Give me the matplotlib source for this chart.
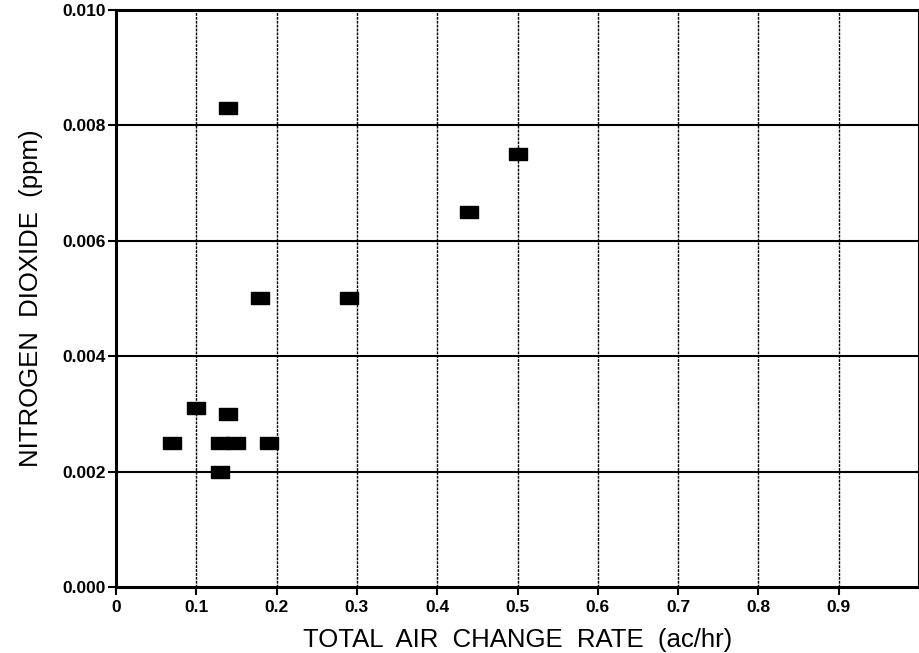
import matplotlib.pyplot as plt
import numpy as np

# air change rate (ac/hr) and NO2 (ppm)
air_change = [0.07, 0.10, 0.14, 0.14, 0.13, 0.15, 0.13, 0.19, 0.18, 0.29, 0.44, 0.50]
no2_ppm = [0.0025, 0.0031, 0.0083, 0.0030, 0.0025, 0.0025, 0.0020, 0.0025, 0.0050, 0.0050, 0.0065, 0.0075]

x_ticks = [0, 0.1, 0.2, 0.3, 0.4, 0.5, 0.6, 0.7, 0.8, 0.9]
x_labels = ["0", "0.1", "0.2", "0.3", "0.4", "0.5", "0.6", "0.7", "0.8", "0.9"]
y_ticks = [0.000, 0.002, 0.004, 0.006, 0.008, 0.010]
y_labels = ["0.000", "0.002", "0.004", "0.006", "0.008", "0.010"]

plt.rcParams['font.family'] = ['Liberation Sans', 'DejaVu Sans']

fig = plt.figure(figsize=(9.2, 6.53), dpi=100)
ax = fig.add_axes([0.126, 0.101, 0.873, 0.884])

# rectangular marker, wider than tall
rect = [(-1, -0.62), (1, -0.62), (1, 0.62), (-1, 0.62), (-1, -0.62)]
ax.plot(air_change, no2_ppm, linestyle='none', marker=rect, markersize=13.5,
        color='black', zorder=5)

ax.set_xlim(0, 1.0)
ax.set_ylim(0, 0.010)

# grid: solid horizontals, dotted verticals
for y in y_ticks[1:-1]:
    ax.axhline(y, color='black', linewidth=1.5, zorder=1)
for x in x_ticks[1:] + [1.0]:
    ax.axvline(x, color='black', linewidth=1.0, linestyle=(0, (2, 0.8)), zorder=1)

ax.set_xticks(x_ticks)
ax.set_xticklabels(x_labels, fontsize=12.5, fontweight='bold')
ax.set_yticks(y_ticks)
ax.set_yticklabels(y_labels, fontsize=12.5, fontweight='bold')
ax.tick_params(direction='out', length=6, width=1.5, pad=1)
ax.tick_params(axis='x', pad=3)

for s in ax.spines.values():
    s.set_linewidth(2.2)

ax.set_xlabel('TOTAL  AIR  CHANGE  RATE  (ac/hr)', fontsize=18.5, labelpad=10)
ax.set_ylabel('NITROGEN  DIOXIDE  (ppm)', fontsize=18.5, labelpad=14)

fig.savefig('out.png', dpi=100)
